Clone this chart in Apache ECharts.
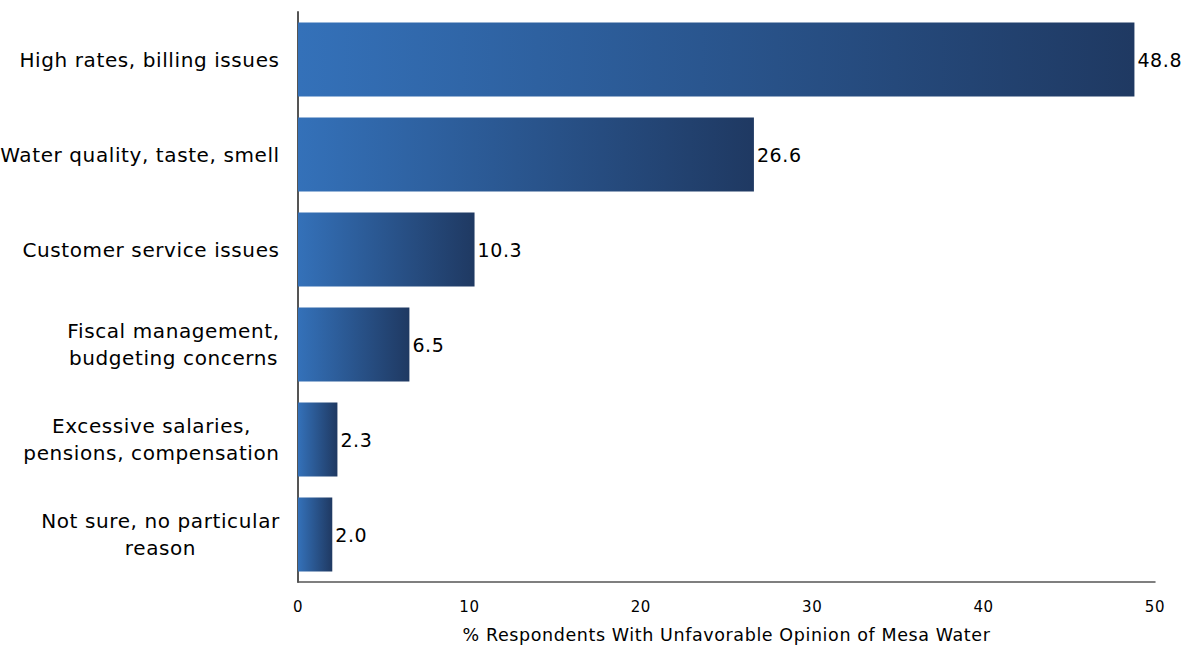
<!DOCTYPE html>
<html><head><meta charset="utf-8">
<script src="https://cdn.jsdelivr.net/npm/echarts@6/dist/echarts.min.js"></script>
<style>html,body{margin:0;padding:0;background:#fff}#c{width:1184px;height:648px}#c text{letter-spacing:0.6px}</style>
</head><body><div id="c"></div>
<script>
var categories = ["High rates, billing issues","Water quality, taste, smell","Customer service issues","Fiscal management,\nbudgeting concerns","Excessive salaries,\npensions, compensation","Not sure, no particular\nreason"];
var values = [48.8, 26.6, 10.3, 6.5, 2.3, 2.0];
var xTicks = [0, 10, 20, 30, 40, 50];

var FONT = '"DejaVu Sans", sans-serif';
var LABEL_SIZE = 20;
var SPACING = 0.6;
var ctx = document.createElement('canvas').getContext('2d');
ctx.font = LABEL_SIZE + 'px ' + FONT;

var rich = {};
var keyOf = {};
categories.forEach(function (cat, i) {
  var w = 0;
  cat.split('\n').forEach(function (l) {
    w = Math.max(w, ctx.measureText(l).width + SPACING * l.length);
  });
  rich['c' + i] = {fontFamily: FONT, fontSize: LABEL_SIZE, color: '#000', align: 'center', width: Math.ceil(w), lineHeight: 27};
  keyOf[cat] = 'c' + i;
});

var chart = echarts.init(document.getElementById('c'), null, {renderer: 'svg'});
chart.setOption({
  animation: false,
  grid: {left: 298, right: 29, top: 12, bottom: 66, containLabel: false, outerBoundsMode: 'none'},
  xAxis: {
    type: 'value', min: xTicks[0], max: xTicks[xTicks.length-1], interval: 10,
    name: '% Respondents With Unfavorable Opinion of Mesa Water',
    nameLocation: 'middle', nameGap: 44,
    nameTextStyle: {fontFamily: FONT, fontSize: 17.5, color: '#000'},
    axisLine: {show: true, lineStyle: {color: '#555', width: 1.5}},
    axisTick: {show: false},
    splitLine: {show: false},
    axisLabel: {fontFamily: FONT, fontSize: 15, color: '#000', margin: 17}
  },
  yAxis: {
    type: 'category', inverse: true, data: categories,
    axisLine: {show: true, lineStyle: {color: '#555', width: 2}},
    axisTick: {show: false},
    axisLabel: {
      margin: 18, color: '#000', fontFamily: FONT, fontSize: LABEL_SIZE,
      formatter: function (v) {
        var k = keyOf[v];
        return v.split('\n').map(function (l) { return '{' + k + '|' + l + '}'; }).join('\n');
      },
      rich: rich
    }
  },
  series: [{
    type: 'bar', data: values, barCategoryGap: '22%',
    itemStyle: {color: new echarts.graphic.LinearGradient(0, 0, 1, 0, [
      {offset: 0, color: '#3471B9'}, {offset: 1, color: '#1F3962'}])},
    label: {show: true, position: 'right', distance: 3, color: '#000',
      fontFamily: FONT, fontSize: 19,
      formatter: function (p) { return p.value.toFixed(1); }}
  }]
});
</script></body></html>
